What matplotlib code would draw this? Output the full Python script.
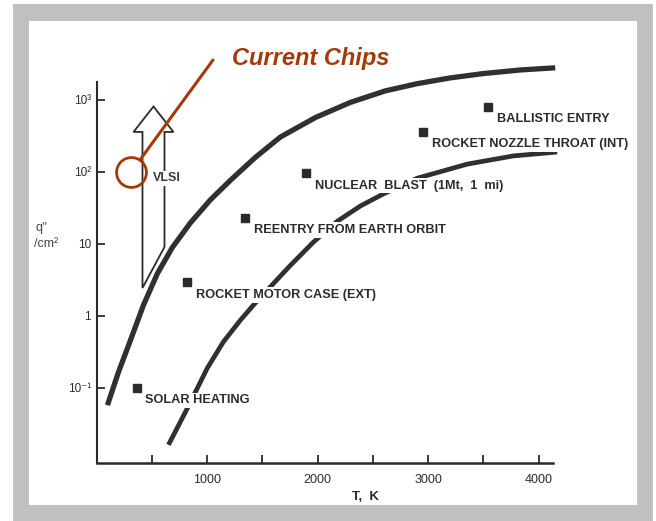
import numpy as np
import matplotlib
matplotlib.use("Agg")
import matplotlib.pyplot as plt
from matplotlib.patches import Rectangle, Polygon

# Heat flux regimes: q'' (W/cm^2) against temperature T (K)
upper_T = [99, 199, 307, 425, 552, 687, 850, 1031, 1212, 1438, 1664, 1980,
           2297, 2613, 2902, 3201, 3499, 3834, 4150]
upper_q = [0.0575, 0.166, 0.457, 1.41, 3.89, 8.9, 19.5, 40.7, 75.9, 158, 302,
           562, 912, 1318, 1660, 1995, 2291, 2570, 2754]

lower_T = [651, 823, 1004, 1148, 1302, 1420, 1546, 1754, 1962, 2179, 2387,
           2595, 2902, 3354, 3770, 4168]
lower_q = [0.0162, 0.0525, 0.19, 0.435, 0.87, 1.41, 2.28, 5.0, 10.5, 20.5,
           33.3, 49, 81, 127, 165, 187]

point_names = ["SOLAR HEATING", "ROCKET MOTOR CASE (EXT)",
               "REENTRY FROM EARTH ORBIT", "NUCLEAR  BLAST  (1Mt,  1  mi)",
               "ROCKET NOZZLE THROAT (INT)", "BALLISTIC ENTRY"]
point_T = [362, 823, 1347, 1899, 2957, 3544]
point_q = [0.1, 2.9, 23, 95, 355, 790]

# VLSI arrow: shaft/head edges in K, bottom/top heat flux levels
vlsi_shaft = (416, 615)
vlsi_head = (335, 696)
vlsi_tip = 800
vlsi_head_base = 355
vlsi_bottom = (2.43, 9.0)

chips_T, chips_q = 316, 100

x_ticks = [500, 1000, 1500, 2000, 2500, 3000, 3500, 4000]
x_labels = ["", "1000", "", "2000", "", "3000", "", "4000"]
y_ticks = [0.1, 1, 10, 100, 1000]
y_labels = ["10\u207b\u00b9", "1", "10", "10\u00b2", "10\u00b3"]

W, H = 656, 521
ink = "#2b2b2b"
chip_red = "#A33A0A"
plt.rcParams["font.family"] = ["Liberation Sans", "DejaVu Sans"]


def fpos(x, y):
    # pixel position (from top-left) to figure fraction
    return x / W, 1 - y / H


fig = plt.figure(figsize=(W / 100, H / 100), dpi=100)
fig.patch.set_facecolor("white")

# gray slide frame with white panel
fig.add_artist(Rectangle(fpos(13, 521), 640 / W, 517 / H, transform=fig.transFigure,
                         facecolor="#C0C0C0", edgecolor="none", zorder=-10))
fig.add_artist(Rectangle(fpos(29, 505), 608 / W, 484 / H, transform=fig.transFigure,
                         facecolor="white", edgecolor="none", zorder=-9))

ax = fig.add_axes([96.5 / W, 1 - 463 / H, (553 - 96.5) / W, (463 - 82) / H])
ax.set_facecolor("none")
ax.set_yscale("log")
ax.set_xlim(0, 4130)
ax.set_ylim(10 ** -2.042, 10 ** 3.243)

for s in ["top", "right"]:
    ax.spines[s].set_visible(False)
ax.spines["left"].set_linewidth(1.5)
ax.spines["bottom"].set_linewidth(1.8)
ax.spines["left"].set_color(ink)
ax.spines["bottom"].set_color(ink)

ax.set_xticks(x_ticks)
ax.set_xticklabels(x_labels)
ax.set_yticks(y_ticks)
ax.set_yticklabels(y_labels)
ax.yaxis.set_minor_locator(matplotlib.ticker.NullLocator())
ax.tick_params(axis="x", direction="in", length=6, width=1.3, color=ink,
               labelsize=9, labelcolor=ink, pad=8)
ax.tick_params(axis="y", direction="in", length=6, width=1.3, color=ink,
               labelsize=8.5, labelcolor=ink, pad=4)

ax.text(0.59, -0.088, "T,  K", transform=ax.transAxes, ha="center", va="center",
        fontsize=9.5, fontweight="bold", color=ink)

# the two bounding curves
ax.plot(upper_T, upper_q, color="#303030", lw=3.8, solid_capstyle="butt",
        solid_joinstyle="round", clip_on=False, zorder=2)
ax.plot(lower_T, lower_q, color="#303030", lw=3.4, solid_capstyle="butt",
        solid_joinstyle="round", clip_on=False, zorder=2)

# labelled application points
ax.plot(point_T, point_q, "s", color=ink, ms=6, zorder=4, clip_on=False)
for name, t, q in zip(point_names, point_T, point_q):
    ax.annotate(name, xy=(t, q), xytext=(6, -9), textcoords="offset points",
                ha="left", va="center", fontsize=9.2, fontweight="bold", color=ink,
                bbox=dict(facecolor="white", edgecolor="none", pad=1.2), zorder=3)

# hollow VLSI arrow
arrow_pts = [(vlsi_shaft[0], vlsi_bottom[0]), (vlsi_shaft[0], vlsi_head_base),
             (vlsi_head[0], vlsi_head_base), (sum(vlsi_head) / 2, vlsi_tip),
             (vlsi_head[1], vlsi_head_base), (vlsi_shaft[1], vlsi_head_base),
             (vlsi_shaft[1], vlsi_bottom[1])]
ax.add_patch(Polygon(arrow_pts, closed=True, facecolor="white", edgecolor=ink,
                     lw=1.3, zorder=2))
ax.text(506, 81, "VLSI", ha="left", va="center", fontsize=9, fontweight="bold",
        color="#3a3a3a", bbox=dict(facecolor="white", edgecolor="none", pad=1),
        zorder=3)

# current chips marker and callout
ax.plot([chips_T], [chips_q], "o", ms=21.5, mfc="none", mec=chip_red, mew=2,
        zorder=5, clip_on=False)
ax.annotate("", xy=(chips_T, chips_q), xycoords="data",
            xytext=fpos(213, 60), textcoords="figure fraction",
            arrowprops=dict(arrowstyle="-", color=chip_red, lw=2.2,
                            shrinkA=0, shrinkB=11), zorder=5)
fig.text(*fpos(232, 58), "Current Chips", ha="left", va="center", fontsize=17,
         fontweight="bold", fontstyle="italic", color=chip_red)

# y axis label
fig.text(*fpos(41, 228), "q''", ha="center", va="center", fontsize=9, color="#444444")
fig.text(*fpos(58, 244), "/cm\u00b2", ha="right", va="center", fontsize=9,
         color="#444444")

fig.savefig("out.png", dpi=100)
